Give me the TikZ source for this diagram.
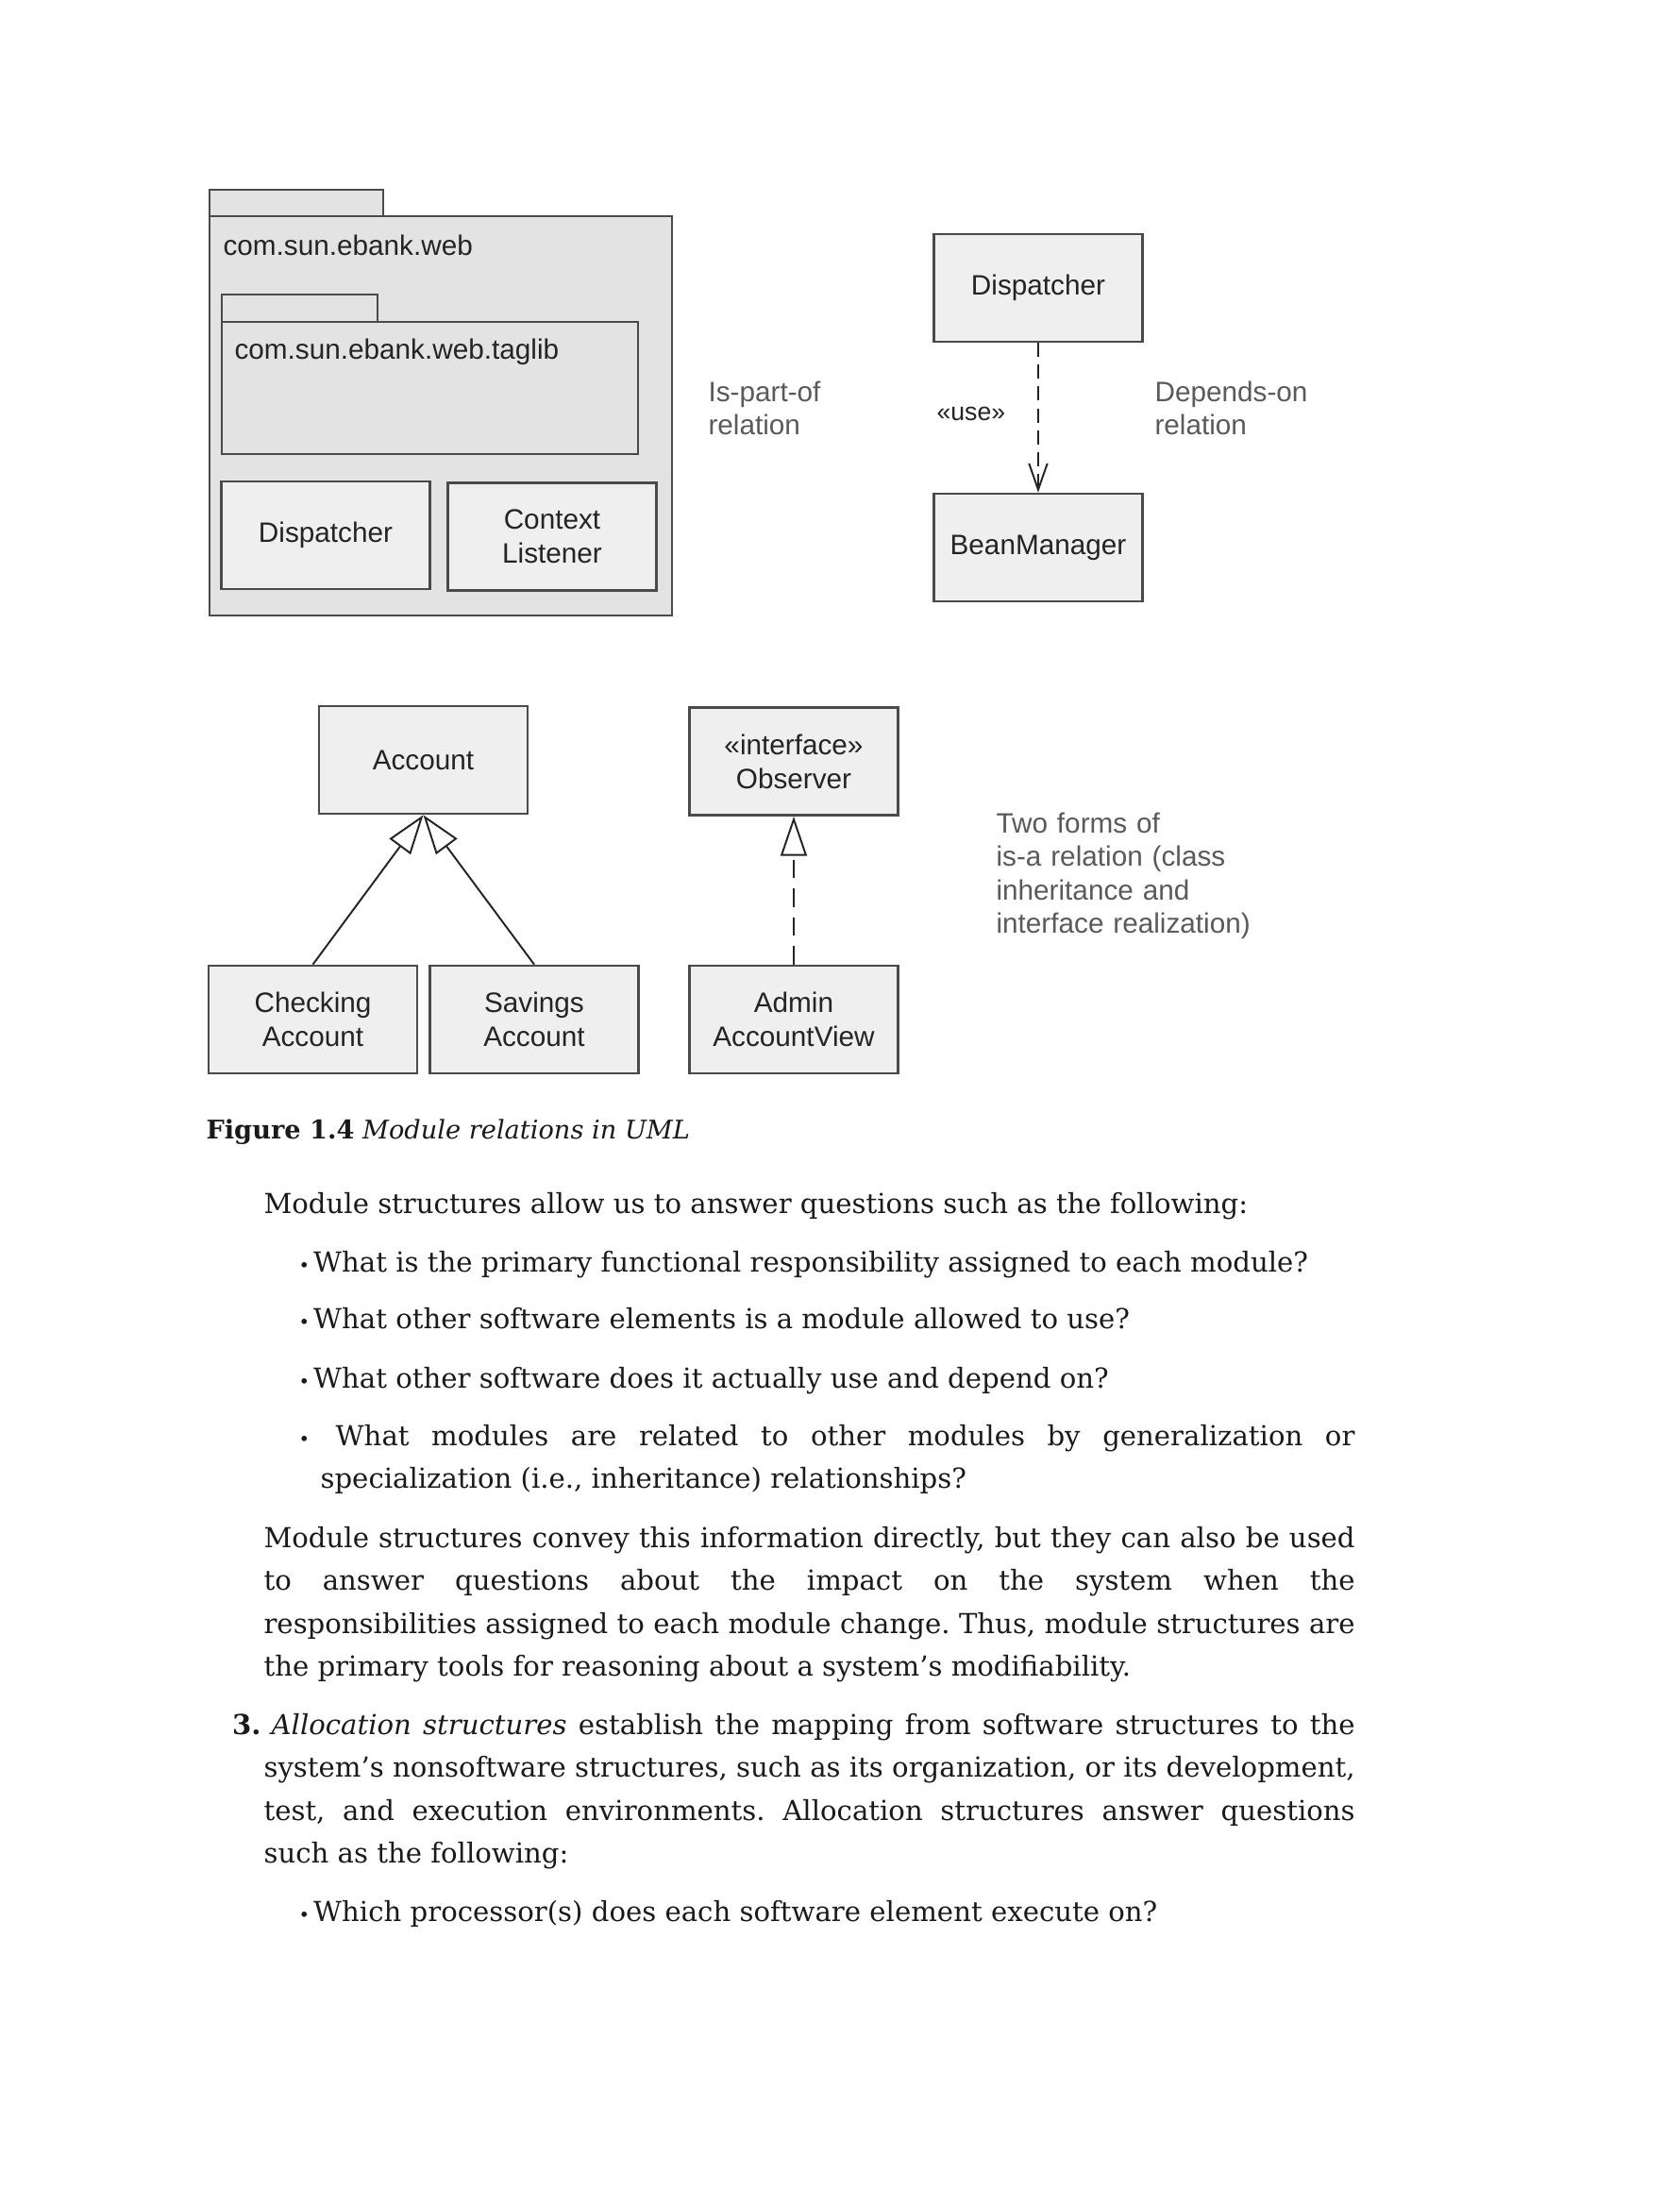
\documentclass[tikz,border=0pt]{standalone}
\usepackage{fontspec}
\setmainfont{DejaVu Serif}
\newfontfamily\umlfont{Liberation Sans}
\usetikzlibrary{arrows.meta}

\definecolor{pkgfill}{HTML}{E3E3E3}
\definecolor{boxfill}{HTML}{EFEFEF}
\definecolor{boxline}{HTML}{4A4A4A}
\definecolor{umltext}{HTML}{242424}
\definecolor{notetext}{HTML}{5A5A5A}
\definecolor{bodytext}{HTML}{1A1A1A}

\tolerance=10000
\hbadness=10000
\frenchspacing
\newcommand\bul{{\fontsize{7}{7}\selectfont\textbullet}\hspace{1.5pt}}

\tikzset{
  pkg/.style={draw=boxline,fill=pkgfill,line width=1pt},
  cls/.style={draw=boxline,fill=boxfill,line width=1pt,minimum width=79.6pt,minimum height=41pt,
    inner sep=0pt,align=center,text=umltext,font=\umlfont\fontsize{10.7}{13}\selectfont},
  lbl/.style={anchor=base west,inner sep=0pt,text=umltext,font=\umlfont\fontsize{10.7}{13}\selectfont},
  note/.style={anchor=base west,inner sep=0pt,text width=200pt,align=left,text=notetext,
    font=\umlfont\fontsize{10.7}{12.8}\selectfont},
  gen/.style={draw=umltext,line width=0.7pt,-{Triangle[open,length=15pt,width=10pt]}},
  real/.style={gen,dash pattern=on 7pt off 4pt},
  dep/.style={draw=umltext,line width=0.7pt,dash pattern=on 5.4pt off 2.9pt,
    -{Straight Barb[length=10pt,width=7pt]}},
  txtline/.style={anchor=base west,inner sep=0pt,text=bodytext,font=\fontsize{10.5}{16.4}\selectfont},
  txtblock/.style={txtline,text width=#1,align=justify},
}

\begin{document}
\begin{tikzpicture}[x=0.36pt,y=-0.36pt]
    \fill[white] (0,0) rectangle (1653,2339);

    \filldraw[pkg] (222,201) rectangle (406,229);
    \filldraw[pkg] (222,229) rectangle (712,652);
    \node[lbl] (web) at (236,270) {com.sun.ebank.web};
    \filldraw[pkg] (235,312) rectangle (400,341);
    \filldraw[pkg] (235,341) rectangle (676,481);
    \node[lbl] (taglib) at (248,380) {com.sun.ebank.web.taglib};

    \node[cls] (Disp) at (345,567) {Dispatcher};
    \node[cls] (Ctx) at (585,568.5) {Context\\Listener};
    \node[cls] (Disp2) at (1100,305) {Dispatcher};
    \node[cls] (Bean) at (1100,580) {BeanManager};
    \node[cls] (Acc) at (448.5,805) {Account};
    \node[cls] (Obs) at (841,806.5) {«interface»\\Observer};
    \node[cls] (Chk) at (331.5,1080) {Checking\\Account};
    \node[cls] (Sav) at (566,1080) {Savings\\Account};
    \node[cls] (Adm) at (841,1080) {Admin\\AccountView};

    \draw[dep] (Disp2) -- (Bean);
    \draw[gen] (Chk.north) -- (Acc.south);
    \draw[gen] (Sav.north) -- (Acc.south);
    \draw[real] (Adm) -- (Obs);

    \node[lbl,font=\umlfont\fontsize{9.6}{12}\selectfont] (use) at (992,445) {«use»};
    \node[note] (ispart) at (750,425) {Is-part-of\\relation};
    \node[note] (depends) at (1223,425) {Depends-on\\relation};
    \node[note] (isa) at (1055,882) {Two forms of\\is-a relation (class\\inheritance and\\interface realization)};

    \node[txtline,font=\fontsize{9.8}{12}\selectfont] (cap) at (218,1206) {\textbf{Figure 1.4} \textit{Module relations in UML}};
    \node[txtline] (p1) at (279,1285) {Module structures allow us to answer questions such as the following:};
    \node[txtline] (b1) at (316,1347) {\bul What is the primary functional responsibility assigned to each module?};
    \node[txtline] (b2) at (316,1407) {\bul What other software elements is a module allowed to use?};
    \node[txtline] (b3) at (316,1470) {\bul What other software does it actually use and depend on?};
    \node[txtblock=402.8pt] (b4) at (316,1531) {\bul\ What modules are related to other modules by generalization or\linebreak
      \hspace*{8.3pt}specialization (i.e., inheritance) relationships?};
    \node[txtblock=416.2pt] (p2) at (279,1639) {Module structures convey this information directly, but they can also be used\linebreak
      to answer questions about the impact on the system when the\linebreak
      responsibilities assigned to each module change. Thus, module structures are\linebreak
      the primary tools for reasoning about a system’s modifiability.};
    \node[txtline] (n3) at (245.5,1837) {\textbf{3.}};
    \node[txtblock=416.2pt] (p3) at (279,1837) {\hspace*{2.9pt}\textit{Allocation structures} establish the mapping from software structures to the\linebreak
      system’s nonsoftware structures, such as its organization, or its development,\linebreak
      test, and execution environments. Allocation structures answer questions\linebreak
      such as the following:};
    \node[txtline] (b5) at (316,2035) {\bul Which processor(s) does each software element execute on?};
\end{tikzpicture}
\end{document}
